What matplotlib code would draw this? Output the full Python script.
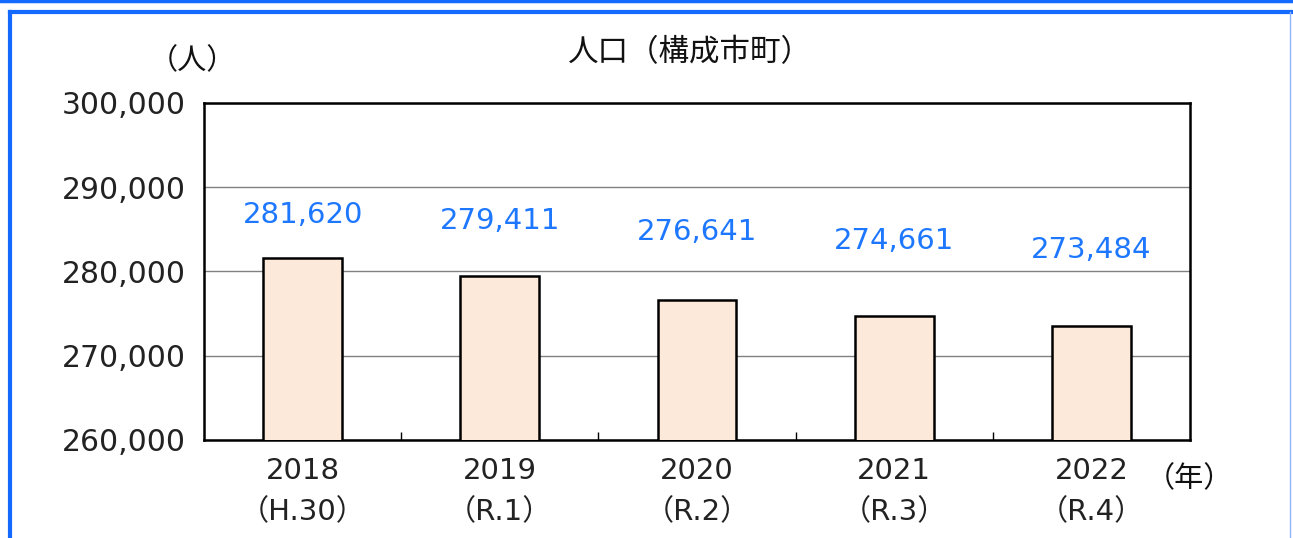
import matplotlib.pyplot as plt
from matplotlib.lines import Line2D

years = ['2018', '2019', '2020', '2021', '2022']
eras = ['（H.30）', '（R.1）', '（R.2）', '（R.3）', '（R.4）']
population = [281620, 279411, 276641, 274661, 273484]

# label offsets above each bar top (points), as in the original layout
label_offsets = [31, 40, 49, 54, 55]

plt.rcParams['font.family'] = ['DejaVu Sans', 'Noto Sans CJK JP']

fig = plt.figure(figsize=(12.93, 5.38), dpi=100)
ax = fig.add_axes([0.1578, 0.1822, 0.7626, 0.6264])

x = list(range(len(years)))
bars = ax.bar(x, population, width=0.4, color='#FDE9D9', edgecolor='black', linewidth=1.8, zorder=3)

ax.set_ylim(260000, 300000)
ax.set_xlim(-0.5, len(years) - 0.5)
ax.set_yticks([260000, 270000, 280000, 290000, 300000])
ax.set_yticklabels([f'{v:,}' for v in ax.get_yticks()], fontsize=21.5, color='#222222')
ax.grid(axis='y', color='#808080', linewidth=1, zorder=1)
ax.tick_params(axis='y', length=0, pad=13)

ax.set_xticks(x)
ax.set_xticklabels([f'{y}\n{e}' for y, e in zip(years, eras)], fontsize=21,
                   color='#222222', linespacing=1.62)
ax.tick_params(axis='x', which='major', length=0, pad=12)
ax.set_xticks([i + 0.5 for i in x[:-1]], minor=True)
ax.tick_params(axis='x', which='minor', direction='in', length=6, width=1, top=False)

for s in ax.spines.values():
    s.set_linewidth(1.8)
    s.set_color('black')

for b, v, off in zip(bars, population, label_offsets):
    ax.annotate(f'{v:,}', (b.get_x() + b.get_width() / 2, v), xytext=(0, off),
                textcoords='offset points', ha='center', va='center',
                fontsize=21, color='#1E78FF')

fig.text(0.5336, 0.903, '人口（構成市町）', ha='center', va='center', fontsize=22,
         family=['Noto Sans CJK JP', 'DejaVu Sans'], color='#111111')
fig.text(0.1485, 0.886, '（人）', ha='center', va='center', fontsize=21,
         family=['Noto Sans CJK JP', 'DejaVu Sans'], color='#111111')
fig.text(0.92, 0.11, '（年）', ha='center', va='center', fontsize=21,
         family=['Noto Sans CJK JP', 'DejaVu Sans'], color='#111111')

# blue frame
blue = '#1469FF'
fig.add_artist(Line2D([0, 1], [0.998, 0.998], transform=fig.transFigure, color=blue, linewidth=2.5))
fig.add_artist(Line2D([0.0077, 0.9985], [0.978, 0.978], transform=fig.transFigure, color=blue, linewidth=3))
fig.add_artist(Line2D([0.0077, 0.0077], [0.0, 0.978], transform=fig.transFigure, color=blue, linewidth=3))
fig.add_artist(Line2D([0.998, 0.998], [0.0, 0.978], transform=fig.transFigure, color='#8FB5FF', linewidth=1))

fig.savefig('out.png', dpi=100)
